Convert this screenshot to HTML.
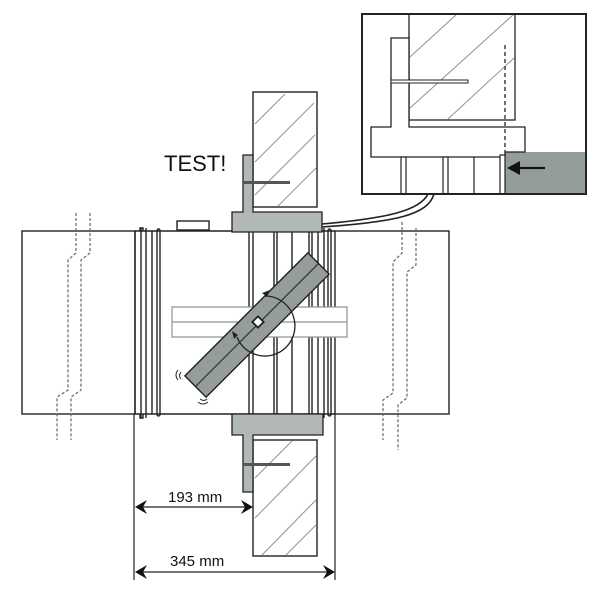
<!DOCTYPE html>
<html><head><style>html,body{margin:0;padding:0;background:#fff}svg{display:block}</style></head>
<body>
<svg width="600" height="600" viewBox="0 0 600 600" xmlns="http://www.w3.org/2000/svg">
<rect width="600" height="600" fill="#fff"/>
<g fill="none" stroke="#222" stroke-width="1.4">
  <rect x="22" y="231" width="113" height="183"/>
  <rect x="335" y="231" width="114" height="183"/>
  <line x1="135" y1="231" x2="335" y2="231"/>
  <line x1="135" y1="414" x2="335" y2="414"/>
  <line x1="135" y1="231" x2="135" y2="414"/>
  <path d="M140 231 V228 h3 v3 M140 414 v4 h3 v-4" />
  <line x1="141" y1="228" x2="141" y2="418"/>
  <line x1="146" y1="228" x2="146" y2="418"/>
  <line x1="152" y1="231" x2="152" y2="414"/>
  <rect x="157" y="229" width="3" height="187" rx="1.5"/>
  <line x1="249" y1="231" x2="249" y2="414"/>
  <line x1="253" y1="231" x2="253" y2="414"/>
  <line x1="274" y1="231" x2="274" y2="414"/>
  <line x1="277" y1="231" x2="277" y2="414"/>
  <line x1="292" y1="231" x2="292" y2="414"/>
  <line x1="309" y1="231" x2="309" y2="414"/>
  <line x1="312" y1="231" x2="312" y2="414"/>
  <line x1="318" y1="231" x2="318" y2="414"/>
  <line x1="324" y1="228" x2="324" y2="418"/>
  <rect x="328" y="229" width="3" height="187" rx="1.5"/>
  <rect x="177" y="221" width="32" height="9"/>
</g>
<g fill="#fff" stroke="#8a9490" stroke-width="1.2">
  <rect x="172" y="307" width="175" height="30"/>
  <line x1="172" y1="322" x2="347" y2="322"/>
</g>
<g transform="rotate(-45 257 325)">
  <rect x="170" y="310" width="174" height="30" fill="#959d99" stroke="#222" stroke-width="1.4"/>
  <line x1="170" y1="325" x2="344" y2="325" stroke="#222" stroke-width="1"/>
</g>
<rect x="254" y="318" width="8" height="8" fill="#fff" stroke="#222" stroke-width="1.8" transform="rotate(45 258 322)"/>
<path d="M265 296 A30 30 0 1 1 237 337" fill="none" stroke="#222" stroke-width="1.3"/>
<path d="M262 293 l8 -3 l-3 7z M234 339 l-2 -8 l6 4z" fill="#222"/>
<path d="M178 370 q-4 5 0 10 M181 372 q-3 4 0 7 M198 402 q5 4 10 0 M200 399 q4 3 7 0" fill="none" stroke="#222" stroke-width="1"/>
<g fill="none" stroke="#666" stroke-width="1.2" stroke-dasharray="3 2">
  <path d="M76 213 V253 L68 260 V390 L57 397 V440"/>
  <path d="M90 213 V253 L81 260 V390 L71 397 V440"/>
  <path d="M402 222 V253 L393 262 V393 L383 400 V440"/>
  <path d="M416 228 V265 L407 272 V398 L398 405 V450"/>
</g>
<rect x="253" y="92" width="64" height="115" fill="#fff" stroke="#222" stroke-width="1.4"/>
<g stroke="#8a9490" stroke-width="1">
  <line x1="255" y1="124" x2="285" y2="94"/>
  <line x1="255" y1="162" x2="314" y2="103"/>
  <line x1="255" y1="195" x2="315" y2="135"/>
  <line x1="278" y1="206" x2="316" y2="168"/>
</g>
<path d="M243 155 H253 V212 H322 V232 H232 V212 H243 Z" fill="#b2b8b6" stroke="#222" stroke-width="1.3"/>
<rect x="244" y="181" width="46" height="3" fill="#555"/>
<rect x="253" y="440" width="64" height="116" fill="#fff" stroke="#222" stroke-width="1.4"/>
<g stroke="#8a9490" stroke-width="1">
  <line x1="255" y1="478" x2="292" y2="441"/>
  <line x1="255" y1="518" x2="316" y2="456"/>
  <line x1="262" y1="555" x2="316" y2="500"/>
  <line x1="286" y1="555" x2="316" y2="525"/>
</g>
<path d="M232 414 H323 V435 H253 V492 H243 V435 H232 Z" fill="#b2b8b6" stroke="#222" stroke-width="1.3"/>
<rect x="244" y="463" width="46" height="3" fill="#555"/>
<g fill="none" stroke="#222" stroke-width="1.6">
  <path d="M322 224 C390 218 420 210 428 194"/>
  <path d="M322 227 C395 222 428 215 434 194"/>
</g>
<text x="164" y="171" font-family="Liberation Sans, sans-serif" font-size="22" fill="#111">TEST!</text>
<rect x="362" y="14" width="224" height="180" fill="#fff" stroke="#222" stroke-width="2"/>
<rect x="505" y="152" width="81" height="42" fill="#959d99"/>
<rect x="409" y="14" width="106" height="106" fill="#fff" stroke="#222" stroke-width="1.3"/>
<g stroke="#8a9490" stroke-width="1">
  <line x1="410" y1="57" x2="457" y2="14"/>
  <line x1="410" y1="108" x2="514" y2="14"/>
  <line x1="448" y1="119" x2="514" y2="58"/>
</g>
<path d="M391 38 H409 V127 H525 V152 H505 V157 H371 V127 H391 Z" fill="#fff" stroke="#222" stroke-width="1.3"/>
<rect x="391" y="80" width="77" height="3" fill="#fff" stroke="#222" stroke-width="1"/>
<line x1="505" y1="45" x2="505" y2="152" stroke="#333" stroke-width="1.4" stroke-dasharray="4 3"/>
<g fill="#fff" stroke="#222" stroke-width="1.2">
  <rect x="401" y="157" width="5" height="37"/>
  <rect x="443" y="157" width="5" height="37"/>
  <line x1="474" y1="157" x2="474" y2="194"/>
  <rect x="500" y="155" width="5" height="39"/>
</g>
<line x1="515" y1="168" x2="545" y2="168" stroke="#111" stroke-width="2.2"/>
<path d="M507 168 L520 161 L520 175 Z" fill="#111"/>
<rect x="362" y="14" width="224" height="180" fill="none" stroke="#222" stroke-width="2"/>
<g stroke="#222" stroke-width="1.2">
  <line x1="134" y1="414" x2="134" y2="580"/>
  <line x1="335" y1="414" x2="335" y2="580"/>
  <line x1="140" y1="507" x2="247" y2="507"/>
  <line x1="140" y1="572" x2="329" y2="572"/>
</g>
<g fill="#111">
  <path d="M135 507 L147 500 L143 507 L147 514 Z"/>
  <path d="M253 507 L241 500 L245 507 L241 514 Z"/>
  <path d="M135 572 L147 565 L143 572 L147 579 Z"/>
  <path d="M335 572 L323 565 L327 572 L323 579 Z"/>
</g>
<g font-family="Liberation Sans, sans-serif" font-size="15" fill="#111">
  <text x="168" y="502">193 mm</text>
  <text x="170" y="566">345 mm</text>
</g>
</svg>
</body></html>
